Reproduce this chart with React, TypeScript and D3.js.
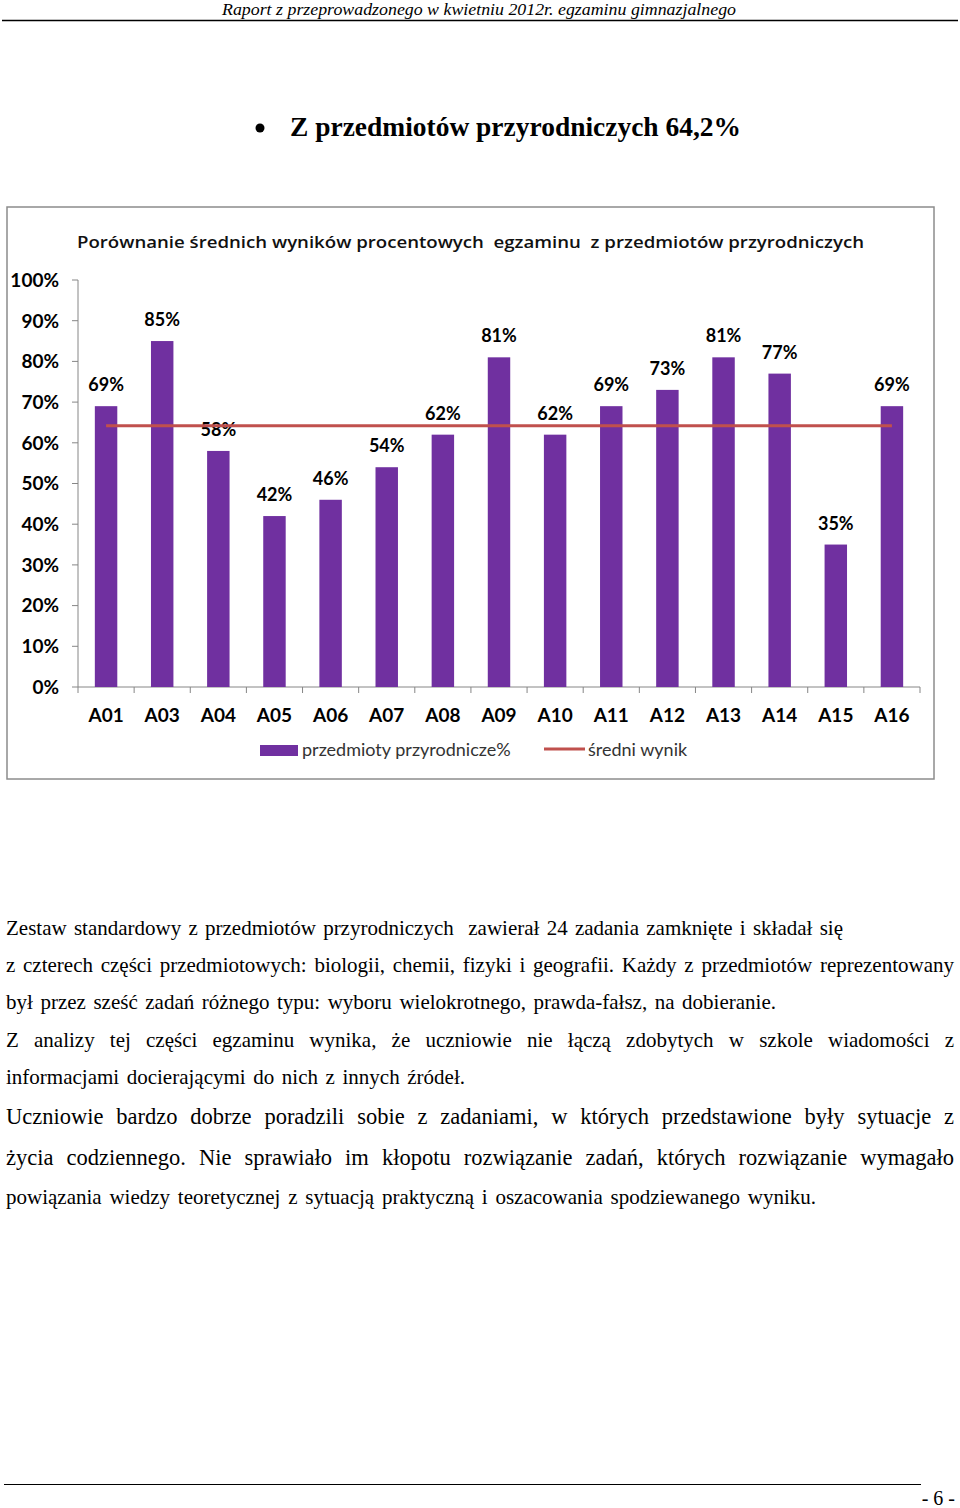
import React, { useEffect, useRef } from 'react';
import * as d3 from 'd3';

// chart data
const categories = ['A01', 'A03', 'A04', 'A05', 'A06', 'A07', 'A08', 'A09', 'A10', 'A11', 'A12', 'A13', 'A14', 'A15', 'A16'];
const values = [69, 85, 58, 42, 46, 54, 62, 81, 62, 69, 73, 81, 77, 35, 69];
const average = 64.2;
const yTicks = [0, 10, 20, 30, 40, 50, 60, 70, 80, 90, 100];

const headerText = 'Raport z przeprowadzonego w kwietniu 2012r. egzaminu gimnazjalnego';
const headingText = 'Z przedmiotów przyrodniczych 64,2%';
const chartTitle = 'Porównanie średnich wyników procentowych  egzaminu  z przedmiotów przyrodniczych';
const legendBars = 'przedmioty przyrodnicze%';
const legendLine = 'średni wynik';

const bodyLines = [
  'Zestaw standardowy z przedmiotów przyrodniczych  zawierał 24 zadania zamknięte i składał się',
  'z czterech części przedmiotowych: biologii, chemii, fizyki i geografii. Każdy z przedmiotów reprezentowany',
  'był przez sześć zadań różnego typu: wyboru wielokrotnego, prawda-fałsz, na dobieranie.',
  'Z analizy tej części egzaminu wynika, że uczniowie nie łączą zdobytych w szkole wiadomości z',
  'informacjami docierającymi do nich z innych źródeł.',
  'Uczniowie bardzo dobrze poradzili sobie z zadaniami, w których przedstawione były sytuacje z',
  'życia codziennego. Nie sprawiało im kłopotu rozwiązanie zadań, których rozwiązanie wymagało',
  'powiązania wiedzy teoretycznej z sytuacją praktyczną i oszacowania spodziewanego wyniku.',
];
// layout of the paragraph lines (right edge, baseline, font size)
const bodyRight = [843, 954, 776, 954, 465, 954, 954, 816];
const bodyBase = [935, 972, 1009, 1047, 1084, 1124, 1165, 1204];
const bodySize = [21, 21, 21, 21, 21, 22.5, 22.5, 21];

const W = 960, H = 1508;
const purple = '#7030A0';
const red = '#C0504D';
const calibri = 'Lato, "Open Sans", sans-serif';
const serif = '"Liberation Serif", "Times New Roman", serif';

export default function App() {
  const ref = useRef<SVGSVGElement>(null);

  const x = d3.scaleBand<string>().domain(categories).range([78, 920]).paddingInner(0.6).paddingOuter(0.3);
  const y = d3.scaleLinear().domain([0, 100]).range([687, 280]);
  const step = x.step();
  const bw = x.bandwidth();

  useEffect(() => {
    // stretch paragraph lines to their measured width with word spacing (justify)
    const svg = d3.select(ref.current);
    svg.selectAll<SVGTextElement, unknown>('text.body').each(function () {
      const el = this;
      const target = +(el.getAttribute('data-w') || 0);
      const natural = el.getComputedTextLength();
      const gaps = (el.textContent || '').split(' ').length - 1;
      if (natural < target && gaps > 0) {
        d3.select(el).attr('word-spacing', (target - natural) / gaps);
      } else {
        d3.select(el).attr('textLength', target).attr('lengthAdjust', 'spacingAndGlyphs');
      }
    });
  }, []);

  return (
    <div style={{ position: 'absolute', left: 0, top: 0 }}>
      <svg ref={ref} width={W} height={H} style={{ display: 'block', background: '#fff' }}>
        {/* page header */}
        <text x={479} y={15} textAnchor="middle" fontFamily={serif} fontStyle="italic" fontSize={16.5}
          textLength={514} lengthAdjust="spacingAndGlyphs">{headerText}</text>
        <line x1={2} x2={958} y1={20.5} y2={20.5} stroke="#000" strokeWidth={1.5} />

        {/* heading with bullet */}
        <circle cx={260} cy={128} r={4.5} fill="#000" />
        <text x={290} y={136} fontFamily={serif} fontWeight="bold" fontSize={28}
          textLength={451} lengthAdjust="spacingAndGlyphs">{headingText}</text>

        {/* chart frame */}
        <rect x={7} y={207} width={927} height={572} fill="#fff" stroke="#8c8c8c" strokeWidth={1.5} />
        <text x={77} y={248} fontFamily={'"Open Sans", sans-serif'} fontWeight={600} fontSize={17}
          textLength={787} lengthAdjust="spacingAndGlyphs" fill="#111" style={{ whiteSpace: 'pre' }}>{chartTitle}</text>

        {/* y axis */}
        <line x1={78} x2={78} y1={y(100)} y2={y(0)} stroke="#868686" strokeWidth={1} />
        {yTicks.map(t => (
          <g key={t}>
            <line x1={72} x2={78} y1={y(t)} y2={y(t)} stroke="#868686" />
            <text x={59} y={y(t)} dy="0.36em" textAnchor="end" fontFamily={calibri} fontWeight="bold" fontSize={19}>{t}%</text>
          </g>
        ))}

        {/* x axis */}
        <line x1={78} x2={920} y1={y(0)} y2={y(0)} stroke="#868686" />
        {d3.range(categories.length + 1).map(i => (
          <line key={i} x1={78 + i * step} x2={78 + i * step} y1={y(0)} y2={y(0) + 6} stroke="#868686" />
        ))}
        {categories.map(c => (
          <text key={c} x={(x(c) || 0) + bw / 2} y={722} textAnchor="middle" fontFamily={calibri} fontWeight="bold" fontSize={19}>{c}</text>
        ))}

        {/* bars */}
        {categories.map((c, i) => (
          <g key={c}>
            <rect x={x(c)} y={y(values[i])} width={bw} height={y(0) - y(values[i])} fill={purple} />
            <text x={(x(c) || 0) + bw / 2} y={y(values[i]) - 15} textAnchor="middle" fontFamily={calibri} fontWeight="bold" fontSize={18}>{values[i]}%</text>
          </g>
        ))}

        {/* average line */}
        <line x1={(x(categories[0]) || 0) + bw / 2} x2={(x(categories[categories.length - 1]) || 0) + bw / 2}
          y1={y(average)} y2={y(average)} stroke={red} strokeWidth={3} />

        {/* legend */}
        <rect x={260} y={745} width={38} height={11} fill={purple} />
        <text x={302} y={750} dy="0.36em" fontFamily={calibri} fontSize={18} fill="#333">{legendBars}</text>
        <line x1={544} x2={585} y1={749} y2={749} stroke={red} strokeWidth={3} />
        <text x={588} y={750} dy="0.36em" fontFamily={calibri} fontSize={18} fill="#333">{legendLine}</text>

        {/* paragraph */}
        {bodyLines.map((l, i) => (
          <text key={i} className="body" data-w={bodyRight[i] - 6} x={6} y={bodyBase[i]}
            fontFamily={serif} fontSize={bodySize[i]} style={{ whiteSpace: 'pre' }}>{l}</text>
        ))}

        {/* footer */}
        <line x1={4} x2={921} y1={1484.5} y2={1484.5} stroke="#000" strokeWidth={1} />
        <text x={955} y={1505} textAnchor="end" fontFamily={serif} fontSize={20}>- 6 -</text>
      </svg>
    </div>
  );
}
